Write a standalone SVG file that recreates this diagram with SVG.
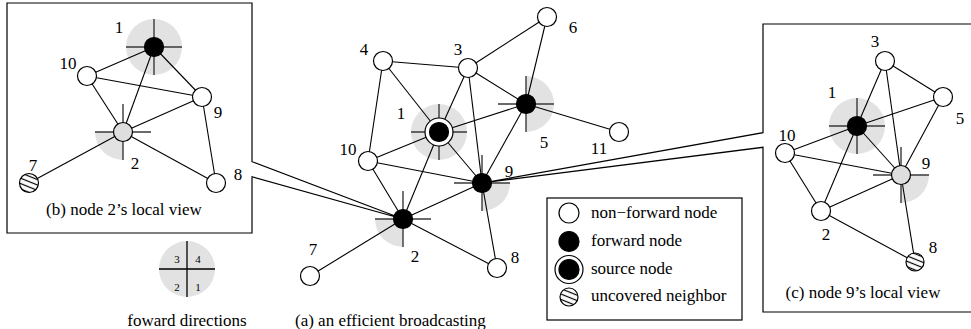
<svg xmlns="http://www.w3.org/2000/svg" width="971" height="329" viewBox="0 0 971 329">
<style>
.e{stroke:#000;stroke-width:1.1;fill:none}
.b{stroke:#000;stroke-width:1.2;fill:none}
.n{fill:#fff;stroke:#000;stroke-width:1.2}
.f{fill:#000;stroke:#000;stroke-width:1.2}
.l{fill:#dedede;stroke:#000;stroke-width:1.2}
.h{fill:url(#hatch);stroke:#000;stroke-width:1.2}
.g{fill:#e2e2e2}
.x{stroke:#3a3a3a;stroke-width:1.4}
.k{stroke:#000;stroke-width:1.3}
.t{font-family:"Liberation Serif","Times New Roman",serif;font-size:17px;fill:#000}
.s{font-family:"Liberation Serif","Times New Roman",serif;font-size:11px;fill:#000}
</style>
<defs>
<pattern id="hatch" patternUnits="userSpaceOnUse" width="5" height="5" patternTransform="rotate(22)">
<rect width="5" height="5" fill="#fff"/>
<line x1="0" y1="2.5" x2="5" y2="2.5" stroke="#000" stroke-width="1.2"/>
</pattern>
</defs>
<rect width="971" height="329" fill="#fff"/>

<!-- boxes with callout wedges -->
<g id="boxes">
<path class="b" d="M7,3 H252 V161.7 L403,219 L252,176.7 V233 H7 Z"/>
<path class="b" d="M763,24 H975 V312 H763 V147.3 L482,183 L763,132.7 Z"/>
<rect class="b" x="547" y="198" width="195" height="122"/>
</g>

<!-- forward direction shading -->
<g id="shading">
<circle class="g" cx="439" cy="132" r="28"/>
<path class="g" d="M526,76 A28,28 0 0 1 526,132 Z"/>
<path class="g" d="M482,183 L510,183 A28,28 0 0 1 482,211 Z"/>
<path class="g" d="M403,219 L403,247 A28,28 0 0 1 375,219 Z"/>
<circle class="g" cx="154" cy="47" r="28"/>
<path class="g" d="M123,132 L123,160 A28,28 0 0 1 95,132 Z"/>
<circle class="g" cx="857" cy="126" r="28"/>
<path class="g" d="M901,175 L929,175 A28,28 0 0 1 901,203 Z"/>
</g>

<g id="connectors">
<!-- main graph -->
<line class="e" x1="383" y1="61" x2="468" y2="68"/>
<line class="e" x1="383" y1="61" x2="439" y2="132"/>
<line class="e" x1="383" y1="61" x2="368" y2="161"/>
<line class="e" x1="468" y1="68" x2="439" y2="132"/>
<line class="e" x1="468" y1="68" x2="482" y2="183"/>
<line class="e" x1="468" y1="68" x2="526" y2="104"/>
<line class="e" x1="468" y1="68" x2="547" y2="17"/>
<line class="e" x1="547" y1="17" x2="526" y2="104"/>
<line class="e" x1="439" y1="132" x2="526" y2="104"/>
<line class="e" x1="439" y1="132" x2="368" y2="161"/>
<line class="e" x1="439" y1="132" x2="482" y2="183"/>
<line class="e" x1="439" y1="132" x2="403" y2="219"/>
<line class="e" x1="526" y1="104" x2="482" y2="183"/>
<line class="e" x1="526" y1="104" x2="619" y2="132"/>
<line class="e" x1="368" y1="161" x2="482" y2="183"/>
<line class="e" x1="368" y1="161" x2="403" y2="219"/>
<line class="e" x1="403" y1="219" x2="482" y2="183"/>
<line class="e" x1="403" y1="219" x2="497" y2="268"/>
<line class="e" x1="403" y1="219" x2="310" y2="276"/>
<line class="e" x1="482" y1="183" x2="497" y2="268"/>
<!-- (b) -->
<line class="e" x1="87" y1="76" x2="154" y2="47"/>
<line class="e" x1="154" y1="47" x2="202" y2="97"/>
<line class="e" x1="154" y1="47" x2="123" y2="132"/>
<line class="e" x1="87" y1="76" x2="202" y2="97"/>
<line class="e" x1="87" y1="76" x2="123" y2="132"/>
<line class="e" x1="123" y1="132" x2="202" y2="97"/>
<line class="e" x1="202" y1="97" x2="216" y2="183"/>
<line class="e" x1="123" y1="132" x2="216" y2="183"/>
<line class="e" x1="123" y1="132" x2="29" y2="183"/>
<!-- (c) -->
<line class="e" x1="885" y1="61" x2="857" y2="126"/>
<line class="e" x1="885" y1="61" x2="901" y2="175"/>
<line class="e" x1="885" y1="61" x2="943" y2="97"/>
<line class="e" x1="857" y1="126" x2="943" y2="97"/>
<line class="e" x1="857" y1="126" x2="785" y2="153"/>
<line class="e" x1="857" y1="126" x2="901" y2="175"/>
<line class="e" x1="857" y1="126" x2="821" y2="211"/>
<line class="e" x1="943" y1="97" x2="901" y2="175"/>
<line class="e" x1="785" y1="153" x2="901" y2="175"/>
<line class="e" x1="785" y1="153" x2="821" y2="211"/>
<line class="e" x1="821" y1="211" x2="901" y2="175"/>
<line class="e" x1="901" y1="175" x2="915" y2="262"/>
<line class="e" x1="821" y1="211" x2="915" y2="262"/>
</g>

<!-- direction crosses -->
<g id="crosses">
<path class="x" d="M411,132 H467 M439,104 V160"/>
<path class="x" d="M498,104 H554 M526,76 V132"/>
<path class="x" d="M454,183 H510 M482,155 V211"/>
<path class="x" d="M375,219 H431 M403,191 V247"/>
<path class="x" d="M126,47 H182 M154,19 V75"/>
<path class="x" d="M95,132 H151 M123,104 V160"/>
<path class="x" d="M829,126 H885 M857,98 V154"/>
<path class="x" d="M873,175 H929 M901,147 V203"/>
</g>

<!-- main graph nodes -->
<g id="a-n1"><circle class="n" cx="439" cy="132" r="14"/><circle class="f" cx="439" cy="132" r="9.5"/><text class="t" x="401" y="119" text-anchor="middle">1</text></g>
<g id="a-n2"><circle class="f" cx="403" cy="219" r="9.5"/><text class="t" x="415" y="262" text-anchor="middle">2</text></g>
<g id="a-n3"><circle class="n" cx="468" cy="68" r="9.5"/><text class="t" x="458" y="55" text-anchor="middle">3</text></g>
<g id="a-n4"><circle class="n" cx="383" cy="61" r="9.5"/><text class="t" x="364" y="55" text-anchor="middle">4</text></g>
<g id="a-n5"><circle class="f" cx="526" cy="104" r="9.5"/><text class="t" x="544" y="148" text-anchor="middle">5</text></g>
<g id="a-n6"><circle class="n" cx="547" cy="17" r="9.5"/><text class="t" x="573" y="33" text-anchor="middle">6</text></g>
<g id="a-n7"><circle class="n" cx="310" cy="276" r="9.5"/><text class="t" x="313" y="255" text-anchor="middle">7</text></g>
<g id="a-n8"><circle class="n" cx="497" cy="268" r="9.5"/><text class="t" x="515" y="263" text-anchor="middle">8</text></g>
<g id="a-n9"><circle class="f" cx="482" cy="183" r="9.5"/><text class="t" x="509" y="177" text-anchor="middle">9</text></g>
<g id="a-n10"><circle class="n" cx="368" cy="161" r="9.5"/><text class="t" x="348" y="155" text-anchor="middle">10</text></g>
<g id="a-n11"><circle class="n" cx="619" cy="132" r="9.5"/><text class="t" x="599" y="154" text-anchor="middle">11</text></g>

<!-- (b) nodes -->
<g id="b-n1"><circle class="f" cx="154" cy="47" r="9.5"/><text class="t" x="119" y="33" text-anchor="middle">1</text></g>
<g id="b-n10"><circle class="n" cx="87" cy="76" r="9.5"/><text class="t" x="68" y="69" text-anchor="middle">10</text></g>
<g id="b-n9"><circle class="n" cx="202" cy="97" r="9.5"/><text class="t" x="218" y="118" text-anchor="middle">9</text></g>
<g id="b-n2"><circle class="l" cx="123" cy="132" r="9.5"/><text class="t" x="135" y="169" text-anchor="middle">2</text></g>
<g id="b-n7"><circle class="h" cx="29" cy="183" r="9.5"/><text class="t" x="33" y="171" text-anchor="middle">7</text></g>
<g id="b-n8"><circle class="n" cx="216" cy="183" r="9.5"/><text class="t" x="238" y="180" text-anchor="middle">8</text></g>
<text class="t" x="124" y="215" text-anchor="middle">(b) node 2’s local view</text>

<!-- (c) nodes -->
<g id="c-n3"><circle class="n" cx="885" cy="61" r="9.5"/><text class="t" x="875" y="47" text-anchor="middle">3</text></g>
<g id="c-n5"><circle class="n" cx="943" cy="97" r="9.5"/><text class="t" x="960" y="124" text-anchor="middle">5</text></g>
<g id="c-n1"><circle class="f" cx="857" cy="126" r="9.5"/><text class="t" x="832" y="98" text-anchor="middle">1</text></g>
<g id="c-n10"><circle class="n" cx="785" cy="153" r="9.5"/><text class="t" x="787" y="141" text-anchor="middle">10</text></g>
<g id="c-n9"><circle class="l" cx="901" cy="175" r="9.5"/><text class="t" x="926" y="169" text-anchor="middle">9</text></g>
<g id="c-n2"><circle class="n" cx="821" cy="211" r="9.5"/><text class="t" x="826" y="240" text-anchor="middle">2</text></g>
<g id="c-n8"><circle class="h" cx="915" cy="262" r="9"/><text class="t" x="933" y="253" text-anchor="middle">8</text></g>
<text class="t" x="863" y="298" text-anchor="middle">(c) node 9’s local view</text>

<!-- legend -->
<g id="legend">
<circle class="n" cx="569" cy="213" r="10"/><text class="t" x="591" y="218">non−forward node</text>
<circle class="f" cx="569" cy="241.5" r="10"/><text class="t" x="591" y="246">forward node</text>
<circle class="n" cx="569" cy="269.5" r="14"/><circle class="f" cx="569" cy="269.5" r="10"/><text class="t" x="591" y="274">source node</text>
<circle class="h" cx="569" cy="297" r="9"/><text class="t" x="591" y="301">uncovered neighbor</text>
</g>

<g id="directions">
<circle class="g" cx="187" cy="269" r="28"/>
<path class="k" d="M159,269 H215 M187,241 V297"/>
<text class="s" x="177" y="263" text-anchor="middle">3</text>
<text class="s" x="198" y="263" text-anchor="middle">4</text>
<text class="s" x="177" y="291" text-anchor="middle">2</text>
<text class="s" x="198" y="291" text-anchor="middle">1</text>
<text class="t" x="187" y="326" text-anchor="middle">foward directions</text>
</g>

<text class="t" x="295" y="326">(a) an efficient broadcasting</text>
</svg>
